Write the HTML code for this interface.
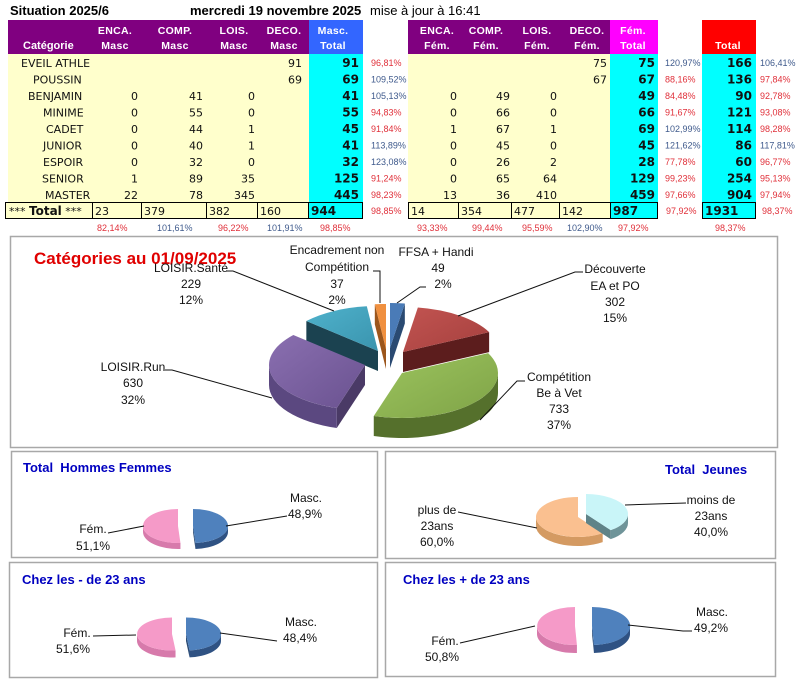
<!DOCTYPE html>
<html><head><meta charset="utf-8"><style>
html,body{margin:0;padding:0;background:#fff;}
svg{display:block;}
.t{font-family:"Liberation Sans",sans-serif;}
.d{font-family:"DejaVu Sans","Liberation Sans",sans-serif;font-size:11px;fill:#111;}
.b{font-family:"DejaVu Sans","Liberation Sans",sans-serif;font-size:12px;font-weight:bold;fill:#111;}
.h{font-family:"Liberation Sans",sans-serif;font-size:10.5px;font-weight:bold;fill:#fff;text-anchor:middle;letter-spacing:0.3px;}
.pr{font-family:"Liberation Sans",sans-serif;font-size:9px;fill:#e0303a;}
.pb{font-family:"Liberation Sans",sans-serif;font-size:9px;fill:#3f5a8c;}
.l{font-family:"Liberation Sans",sans-serif;font-size:12px;fill:#111;text-anchor:middle;}
.bt{font-family:"Liberation Sans",sans-serif;font-size:13px;font-weight:bold;fill:#0000c0;}
</style></head><body>
<svg width="812" height="697" viewBox="0 0 812 697" xmlns="http://www.w3.org/2000/svg">
<rect width="812" height="697" fill="#fff"/>
<!-- title row -->
<text class="t" x="10" y="15" font-size="13" font-weight="bold">Situation 2025/6</text>
<text class="t" x="190" y="15" font-size="13" font-weight="bold">mercredi 19 novembre 2025</text>
<text class="t" x="370" y="15" font-size="13">mise à jour à 16:41</text>

<!-- left table backgrounds -->
<rect x="8" y="20" width="301" height="34" fill="#800080"/>
<rect x="309" y="20" width="54" height="34" fill="#3366ff"/>
<rect x="8" y="54" width="301" height="148" fill="#ffffcc"/>
<rect x="309" y="54" width="54" height="148" fill="#00ffff"/>
<!-- right table backgrounds -->
<rect x="408" y="20" width="202" height="34" fill="#800080"/>
<rect x="610" y="20" width="48" height="34" fill="#ff00ff"/>
<rect x="702" y="20" width="54" height="34" fill="#ff0000"/>
<rect x="408" y="54" width="202" height="148" fill="#ffffcc"/>
<rect x="610" y="54" width="48" height="148" fill="#00ffff"/>
<rect x="702" y="54" width="54" height="148" fill="#00ffff"/>

<!-- headers -->
<text class="t" x="23" y="49" font-size="11" font-weight="bold" fill="#fff">Catégorie</text>
<text class="h" x="115" y="34">ENCA.</text><text class="h" x="115" y="49">Masc</text>
<text class="h" x="175" y="34">COMP.</text><text class="h" x="175" y="49">Masc</text>
<text class="h" x="234" y="34">LOIS.</text><text class="h" x="234" y="49">Masc</text>
<text class="h" x="284" y="34">DECO.</text><text class="h" x="284" y="49">Masc</text>
<text class="h" x="333" y="34">Masc.</text><text class="h" x="333" y="49">Total</text>
<text class="h" x="437" y="34">ENCA.</text><text class="h" x="437" y="49">Fém.</text>
<text class="h" x="486" y="34">COMP.</text><text class="h" x="486" y="49">Fém.</text>
<text class="h" x="537" y="34">LOIS.</text><text class="h" x="537" y="49">Fém.</text>
<text class="h" x="587" y="34">DECO.</text><text class="h" x="587" y="49">Fém.</text>
<text class="h" x="633" y="34">Fém.</text><text class="h" x="633" y="49">Total</text>
<text class="h" x="728" y="49">Total</text>

<!-- left data rows -->
<g class="d">
<text x="21" y="67">EVEIL ATHLE</text>
<text x="33" y="83.5">POUSSIN</text>
<text x="28" y="100">BENJAMIN</text>
<text x="43" y="116.5">MINIME</text>
<text x="46" y="133">CADET</text>
<text x="43" y="149.5">JUNIOR</text>
<text x="43" y="166">ESPOIR</text>
<text x="42" y="182.5">SENIOR</text>
<text x="45" y="199">MASTER</text>
</g>
<g class="d" text-anchor="end">
<text x="302" y="67">91</text>
<text x="302" y="83.5">69</text>
<text x="138" y="100">0</text><text x="203" y="100">41</text><text x="255" y="100">0</text>
<text x="138" y="116.5">0</text><text x="203" y="116.5">55</text><text x="255" y="116.5">0</text>
<text x="138" y="133">0</text><text x="203" y="133">44</text><text x="255" y="133">1</text>
<text x="138" y="149.5">0</text><text x="203" y="149.5">40</text><text x="255" y="149.5">1</text>
<text x="138" y="166">0</text><text x="203" y="166">32</text><text x="255" y="166">0</text>
<text x="138" y="182.5">1</text><text x="203" y="182.5">89</text><text x="255" y="182.5">35</text>
<text x="138" y="199">22</text><text x="203" y="199">78</text><text x="255" y="199">345</text>
</g>
<g class="b" text-anchor="end">
<text x="359" y="67">91</text><text x="359" y="83.5">69</text><text x="359" y="100">41</text>
<text x="359" y="116.5">55</text><text x="359" y="133">45</text><text x="359" y="149.5">41</text>
<text x="359" y="166">32</text><text x="359" y="182.5">125</text><text x="359" y="199">445</text>
</g>
<text class="pr" x="371" y="66">96,81%</text>
<text class="pb" x="371" y="82.5">109,52%</text>
<text class="pb" x="371" y="99">105,13%</text>
<text class="pr" x="371" y="115.5">94,83%</text>
<text class="pr" x="371" y="132">91,84%</text>
<text class="pb" x="371" y="148.5">113,89%</text>
<text class="pb" x="371" y="165">123,08%</text>
<text class="pr" x="371" y="181.5">91,24%</text>
<text class="pr" x="371" y="198">98,23%</text>

<!-- right data rows -->
<g class="d" text-anchor="end">
<text x="607" y="67">75</text>
<text x="607" y="83.5">67</text>
<text x="457" y="100">0</text><text x="510" y="100">49</text><text x="557" y="100">0</text>
<text x="457" y="116.5">0</text><text x="510" y="116.5">66</text><text x="557" y="116.5">0</text>
<text x="457" y="133">1</text><text x="510" y="133">67</text><text x="557" y="133">1</text>
<text x="457" y="149.5">0</text><text x="510" y="149.5">45</text><text x="557" y="149.5">0</text>
<text x="457" y="166">0</text><text x="510" y="166">26</text><text x="557" y="166">2</text>
<text x="457" y="182.5">0</text><text x="510" y="182.5">65</text><text x="557" y="182.5">64</text>
<text x="457" y="199">13</text><text x="510" y="199">36</text><text x="557" y="199">410</text>
</g>
<g class="b" text-anchor="end">
<text x="655" y="67">75</text><text x="655" y="83.5">67</text><text x="655" y="100">49</text>
<text x="655" y="116.5">66</text><text x="655" y="133">69</text><text x="655" y="149.5">45</text>
<text x="655" y="166">28</text><text x="655" y="182.5">129</text><text x="655" y="199">459</text>
<text x="752" y="67">166</text><text x="752" y="83.5">136</text><text x="752" y="100">90</text>
<text x="752" y="116.5">121</text><text x="752" y="133">114</text><text x="752" y="149.5">86</text>
<text x="752" y="166">60</text><text x="752" y="182.5">254</text><text x="752" y="199">904</text>
</g>
<text class="pb" x="665" y="66">120,97%</text>
<text class="pr" x="665" y="82.5">88,16%</text>
<text class="pr" x="665" y="99">84,48%</text>
<text class="pr" x="665" y="115.5">91,67%</text>
<text class="pb" x="665" y="132">102,99%</text>
<text class="pb" x="665" y="148.5">121,62%</text>
<text class="pr" x="665" y="165">77,78%</text>
<text class="pr" x="665" y="181.5">99,23%</text>
<text class="pr" x="665" y="198">97,66%</text>
<text class="pb" x="760" y="66">106,41%</text>
<text class="pr" x="760" y="82.5">97,84%</text>
<text class="pr" x="760" y="99">92,78%</text>
<text class="pr" x="760" y="115.5">93,08%</text>
<text class="pr" x="760" y="132">98,28%</text>
<text class="pb" x="760" y="148.5">117,81%</text>
<text class="pr" x="760" y="165">96,77%</text>
<text class="pr" x="760" y="181.5">95,13%</text>
<text class="pr" x="760" y="198">97,94%</text>

<!-- total row -->
<g stroke="#000" stroke-width="1">
<rect x="5.5" y="202.5" width="87" height="16" fill="#ffffcc"/>
<rect x="92.5" y="202.5" width="49" height="16" fill="#ffffcc"/>
<rect x="141.5" y="202.5" width="65" height="16" fill="#ffffcc"/>
<rect x="206.5" y="202.5" width="51" height="16" fill="#ffffcc"/>
<rect x="257.5" y="202.5" width="51" height="16" fill="#ffffcc"/>
<rect x="308.5" y="202.5" width="54" height="16" fill="#00ffff"/>
<rect x="408.5" y="202.5" width="50" height="16" fill="#ffffcc"/>
<rect x="458.5" y="202.5" width="53" height="16" fill="#ffffcc"/>
<rect x="511.5" y="202.5" width="48" height="16" fill="#ffffcc"/>
<rect x="559.5" y="202.5" width="51" height="16" fill="#ffffcc"/>
<rect x="610.5" y="202.5" width="47" height="16" fill="#00ffff"/>
<rect x="702.5" y="202.5" width="53" height="16" fill="#00ffff"/>
</g>
<text class="d" x="9" y="215">*** <tspan font-weight="bold" font-size="12">Total</tspan> ***</text>
<g class="d">
<text x="95" y="215">23</text><text x="144" y="215">379</text><text x="209" y="215">382</text><text x="260" y="215">160</text>
<text x="411" y="215">14</text><text x="461" y="215">354</text><text x="514" y="215">477</text><text x="562" y="215">142</text>
</g>
<g class="b">
<text x="311" y="215">944</text><text x="613" y="215">987</text><text x="705" y="215">1931</text>
</g>
<text class="pr" x="371" y="214">98,85%</text>
<text class="pr" x="666" y="214">97,92%</text>
<text class="pr" x="762" y="214">98,37%</text>
<!-- bottom percents -->
<text class="pr" x="97" y="231">82,14%</text>
<text class="pb" x="157" y="231">101,61%</text>
<text class="pr" x="218" y="231">96,22%</text>
<text class="pb" x="267" y="231">101,91%</text>
<text class="pr" x="320" y="231">98,85%</text>
<text class="pr" x="417" y="231">93,33%</text>
<text class="pr" x="472" y="231">99,44%</text>
<text class="pr" x="522" y="231">95,59%</text>
<text class="pb" x="567" y="231">102,90%</text>
<text class="pr" x="618" y="231">97,92%</text>
<text class="pr" x="715" y="231">98,37%</text>

<!-- chart boxes -->
<g fill="none" stroke="#a8a8a8" stroke-width="1.5">
<rect x="10.5" y="236.5" width="767" height="211"/>
<rect x="11.5" y="451.5" width="366" height="106"/>
<rect x="385.5" y="451.5" width="390" height="107"/>
<rect x="9.5" y="562.5" width="368" height="115"/>
<rect x="385.5" y="562.5" width="390" height="114"/>
</g>

<!-- main pie -->
<defs>
<linearGradient id="gG" x1="0" y1="0" x2="1" y2="1"><stop offset="0" stop-color="#9cc45e"/><stop offset="1" stop-color="#7fa347"/></linearGradient>
<linearGradient id="gP" x1="0" y1="0" x2="1" y2="1"><stop offset="0" stop-color="#8a6fb0"/><stop offset="1" stop-color="#6a5290"/></linearGradient>
<linearGradient id="gR" x1="0" y1="0" x2="1" y2="1"><stop offset="0" stop-color="#c25451"/><stop offset="1" stop-color="#a5403e"/></linearGradient>
<linearGradient id="gT" x1="0" y1="0" x2="1" y2="1"><stop offset="0" stop-color="#4fb2cc"/><stop offset="1" stop-color="#3a94ae"/></linearGradient>
</defs>
<!-- teal -->
<path d="M378,351 L306.33,321.06 L306.33,341.06 L378,371 Z" fill="#1b4250"/>
<path d="M378,351 L306.33,321.06 A96,45 0 0 1 366.8,306.31 Z" fill="url(#gT)"/>
<!-- orange -->
<path d="M386,349 L374.8,304.31 L374.8,324.31 L386,369 Z" fill="#9c561c"/>
<path d="M386,349 L374.8,304.31 A96,45 0 0 1 386,304 Z" fill="#f0903f"/>
<!-- blue -->
<path d="M390,348 L404.85,303.54 L404.85,323.54 L390,368 Z" fill="#2a4a72"/>
<path d="M390,348 L390,303 A96,45 0 0 1 404.85,303.54 Z" fill="#4a7bb7"/>
<!-- red -->
<path d="M403,352 L489.14,332.13 L489.14,352.13 L403,372 Z" fill="#5c1d1d"/>
<path d="M403,352 L417.85,307.54 A96,45 0 0 1 489.14,332.13 Z" fill="url(#gR)"/>
<!-- purple -->
<path d="M365,365 L336.77,408.01 L336.77,428.01 L365,385 Z" fill="#4a3a66"/>
<path d="M336.77,408.01 A96,45 0 0 1 269,365 L269,385 A96,45 0 0 0 336.77,428.01 Z" fill="#5b4880"/>
<path d="M365,365 L336.77,408.01 A96,45 0 0 1 293.33,335.06 Z" fill="url(#gP)"/>
<!-- green -->
<path d="M498,373 A96,45 0 0 1 373.77,416.01 L373.77,436.01 A96,45 0 0 0 498,393 Z" fill="#55702c"/>
<path d="M402,373 L488.14,353.13 A96,45 0 0 1 373.77,416.01 Z" fill="url(#gG)"/>

<!-- main pie labels -->
<text class="t" x="34" y="264" font-size="17" font-weight="bold" fill="#e00000">Catégories au 01/09/2025</text>
<g fill="none" stroke="#111" stroke-width="1">
<polyline points="226,271 233,271 334,311"/>
<polyline points="373,271 380,271 380,303"/>
<polyline points="426,287 420,287 397,303"/>
<polyline points="583,272 575,272 458,316"/>
<polyline points="525,381 517,381 480,420"/>
<polyline points="165,370 172,370 272,398"/>
</g>
<g class="l">
<text x="191" y="272">LOISIR.Santé</text><text x="191" y="288">229</text><text x="191" y="304">12%</text>
<text x="337" y="254">Encadrement non</text><text x="337" y="271">Compétition</text><text x="337" y="288">37</text><text x="337" y="304">2%</text>
<text x="436" y="256">FFSA + Handi</text><text x="438" y="272">49</text><text x="443" y="288">2%</text>
<text x="615" y="273">Découverte</text><text x="615" y="290">EA et PO</text><text x="615" y="306">302</text><text x="615" y="322">15%</text>
<text x="559" y="381">Compétition</text><text x="559" y="397">Be à Vet</text><text x="559" y="413">733</text><text x="559" y="429">37%</text>
<text x="133" y="371">LOISIR.Run</text><text x="133" y="387">630</text><text x="133" y="404">32%</text>
</g>

<!-- box 1 -->
<text class="bt" x="23" y="472" xml:space="preserve">Total  Hommes Femmes</text>
<path d="M180.44,542.96 A35,17 0 0 1 143,526 L143,532 A35,17 0 0 0 180.44,548.96 Z" fill="#d77aab"/>
<path d="M178,526 L180.44,542.96 A35,17 0 1 1 178,509 Z" fill="#f59ac8"/>
<path d="M193,526 L195.44,542.96 L195.44,548.96 L193,532 Z" fill="#2b4b74"/>
<path d="M228,526 A35,17 0 0 1 195.44,542.96 L195.44,548.96 A35,17 0 0 0 228,532 Z" fill="#2f5283"/>
<path d="M193,526 L193,509 A35,17 0 0 1 195.44,542.96 Z" fill="#4f81bd"/>
<g fill="none" stroke="#111" stroke-width="1">
<line x1="287" y1="516" x2="226" y2="526"/>
<line x1="108" y1="533" x2="144" y2="526"/>
</g>
<g class="l">
<text x="306" y="502">Masc.</text><text x="305" y="518">48,9%</text>
<text x="93" y="533">Fém.</text><text x="93" y="550">51,1%</text>
</g>

<!-- box 2 -->
<text class="bt" x="665" y="474" xml:space="preserve">Total  Jeunes</text>
<path d="M602.69,533.18 A42,20 0 0 1 536,517 L536,526 A42,20 0 0 0 602.69,542.18 Z" fill="#d49a62"/>
<path d="M578,517 L602.69,533.18 A42,20 0 1 1 578,497 Z" fill="#fac090"/>
<path d="M586,514 L610.69,530.18 L610.69,539.18 L586,523 Z" fill="#5f8388"/>
<path d="M628,514 A42,20 0 0 1 610.69,530.18 L610.69,539.18 A42,20 0 0 0 628,523 Z" fill="#6f9499"/>
<path d="M586,514 L586,494 A42,20 0 0 1 610.69,530.18 Z" fill="#c9f5f8"/>
<g fill="none" stroke="#111" stroke-width="1">
<line x1="458" y1="512" x2="537" y2="528"/>
<line x1="686" y1="503" x2="625" y2="505"/>
</g>
<g class="l">
<text x="437" y="514">plus de</text><text x="437" y="530">23ans</text><text x="437" y="546">60,0%</text>
<text x="711" y="504">moins de</text><text x="711" y="520">23ans</text><text x="711" y="536">40,0%</text>
</g>

<!-- box 3 -->
<text class="bt" x="22" y="584">Chez les - de 23 ans</text>
<path d="M175.54,650.42 A35,16.5 0 0 1 137,634 L137,641 A35,16.5 0 0 0 175.54,657.42 Z" fill="#d77aab"/>
<path d="M172,634 L175.54,650.42 A35,16.5 0 1 1 172,617.5 Z" fill="#f59ac8"/>
<path d="M186,634 L189.54,650.42 L189.54,657.42 L186,641 Z" fill="#2b4b74"/>
<path d="M221,634 A35,16.5 0 0 1 189.54,650.42 L189.54,657.42 A35,16.5 0 0 0 221,641 Z" fill="#2f5283"/>
<path d="M186,634 L186,617.5 A35,16.5 0 0 1 189.54,650.42 Z" fill="#4f81bd"/>
<g fill="none" stroke="#111" stroke-width="1">
<line x1="93" y1="636" x2="136" y2="635"/>
<line x1="220" y1="633" x2="277" y2="641"/>
</g>
<g class="l">
<text x="77" y="637">Fém.</text><text x="73" y="653">51,6%</text>
<text x="301" y="626">Masc.</text><text x="300" y="642">48,4%</text>
</g>

<!-- box 4 -->
<text class="bt" x="403" y="584">Chez les + de 23 ans</text>
<path d="M576.92,644.98 A38,19 0 0 1 537,626 L537,634 A38,19 0 0 0 576.92,652.98 Z" fill="#d77aab"/>
<path d="M575,626 L576.92,644.98 A38,19 0 1 1 575,607 Z" fill="#f59ac8"/>
<path d="M592,626 L593.92,644.98 L593.92,652.98 L592,634 Z" fill="#2b4b74"/>
<path d="M630,626 A38,19 0 0 1 593.92,644.98 L593.92,652.98 A38,19 0 0 0 630,634 Z" fill="#2f5283"/>
<path d="M592,626 L592,607 A38,19 0 0 1 593.92,644.98 Z" fill="#4f81bd"/>
<g fill="none" stroke="#111" stroke-width="1">
<polyline points="628,625 683,631 692,631"/>
<line x1="460" y1="643" x2="535" y2="626"/>
</g>
<g class="l">
<text x="712" y="616">Masc.</text><text x="711" y="632">49,2%</text>
<text x="445" y="645">Fém.</text><text x="442" y="661">50,8%</text>
</g>
</svg>
</body></html>
